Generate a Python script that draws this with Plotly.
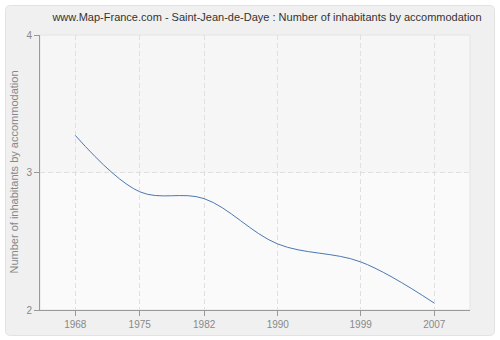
import plotly.graph_objects as go

years = [1968, 1975, 1982, 1990, 1999, 2007]
values = [3.27, 2.86, 2.81, 2.48, 2.35, 2.05]
tick_labels = [str(y) for y in years]
title = "www.Map-France.com - Saint-Jean-de-Daye : Number of inhabitants by accommodation"
y_title = "Number of inhabitants by accommodation"

W, H = 500, 340
L, R, T, B = 40, 30, 35, 30

fig = go.Figure()
fig.add_trace(go.Scatter(
    x=years, y=values, mode="lines",
    line=dict(color="#4a78b0", width=1, shape="spline", smoothing=1.0),
    hoverinfo="skip", showlegend=False,
))

# rounded card in paper coords
pw = W - L - R
ph = H - T - B
def px_x(p):
    return (p - L) / pw
def px_y(p):
    return 1 - (p - T) / ph

x0, x1, y0, y1, r = 5.5, 494.5, 5.5, 335.5, 5
path = (f"M {px_x(x0+r)},{px_y(y0)} L {px_x(x1-r)},{px_y(y0)} "
        f"Q {px_x(x1)},{px_y(y0)} {px_x(x1)},{px_y(y0+r)} "
        f"L {px_x(x1)},{px_y(y1-r)} Q {px_x(x1)},{px_y(y1)} {px_x(x1-r)},{px_y(y1)} "
        f"L {px_x(x0+r)},{px_y(y1)} Q {px_x(x0)},{px_y(y1)} {px_x(x0)},{px_y(y1-r)} "
        f"L {px_x(x0)},{px_y(y0+r)} Q {px_x(x0)},{px_y(y0)} {px_x(x0+r)},{px_y(y0)} Z")
fig.add_shape(type="path", path=path, xref="paper", yref="paper",
              fillcolor="#f0f0f0", line=dict(color="#e2e2e2", width=1), layer="below")
fig.add_shape(type="rect", xref="x domain", yref="y domain", x0=0, x1=1, y0=0.5, y1=1,
              fillcolor="#f6f6f6", line=dict(width=0), layer="below")
fig.add_shape(type="rect", xref="x domain", yref="y domain", x0=0, x1=1, y0=0, y1=0.5,
              fillcolor="#fafafa", line=dict(width=0), layer="below")
fig.add_shape(type="rect", xref="x domain", yref="y domain", x0=0, x1=1, y0=0, y1=1,
              fillcolor="rgba(0,0,0,0)", line=dict(color="#e4e4e4", width=1), layer="below")

fig.add_annotation(text=y_title, xref="paper", yref="paper", x=px_x(13), y=0.5,
                   textangle=-90, showarrow=False, xanchor="center", yanchor="middle",
                   font=dict(size=11, color="#888888"))

fig.update_layout(
    width=W, height=H,
    margin=dict(l=L, r=R, t=T, b=B),
    paper_bgcolor="white",
    plot_bgcolor="#fafafa",
    title=dict(text=title, x=267 / W, xanchor="center", y=1 - 17 / H, yanchor="middle",
               font=dict(family="Liberation Sans, Arial, sans-serif", size=11, color="#333333")),
    font=dict(family="Liberation Sans, Arial, sans-serif", size=11, color="#888888"),
)
fig.update_xaxes(
    range=[1964.17, 2010.88], tickmode="array", tickvals=years, ticktext=tick_labels,
    showgrid=True, gridcolor="#e0e0e0", griddash="5px,3px", gridwidth=1,
    showline=True, linecolor="#999999", linewidth=1,
    ticks="outside", ticklen=5, tickcolor="#999999", automargin=False,
    tickfont=dict(size=10, color="#888888"), zeroline=False,
)
fig.update_yaxes(
    range=[2, 4], tickmode="array", tickvals=[2, 3, 4], ticktext=["2", "3", "4"],
    showgrid=True, gridcolor="#e0e0e0", griddash="5px,3px", gridwidth=1,
    showline=True, linecolor="#999999", linewidth=1,
    ticks="outside", ticklen=5, tickcolor="#999999", automargin=False,
    tickfont=dict(size=10, color="#888888"), zeroline=False,
)

fig.write_html("out.html")
